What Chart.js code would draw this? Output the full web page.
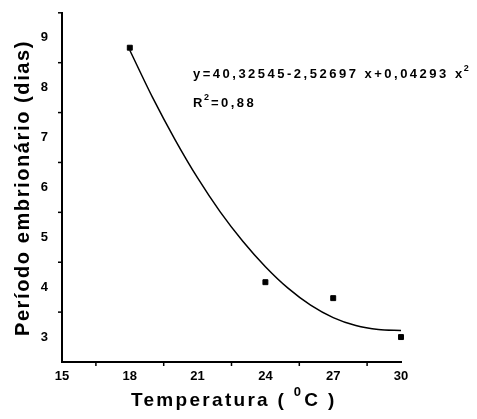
<!DOCTYPE html>
<html>
<head>
<meta charset="utf-8">
<script src="https://cdn.jsdelivr.net/npm/chart.js@4"></script>
<style>
  html, body { margin: 0; padding: 0; background: #fff; }
  #wrap { width: 477px; height: 419px; }
</style>
</head>
<body>
<div id="wrap"><canvas id="thecanvas"></canvas></div>
<script>
// observed points
const temps = [18, 24, 27, 30];
const dias = [8.8, 4.1, 3.78, 3.0];

// fitted curve
const curvex = [18, 19, 20, 21, 22, 23, 24, 25, 26, 27, 28, 29, 30];
const curvey = [8.75, 7.81, 6.96, 6.19, 5.51, 4.92, 4.41, 3.98, 3.64, 3.39, 3.23, 3.15, 3.13];

const xticks = [15, 18, 21, 24, 27, 30];
const yticks = [3, 4, 5, 6, 7, 8, 9];

const eqline = 'y=40,32545-2,52697 x+0,04293 x';
const xtitle = 'Temperatura ( ';
const ytitle = 'Período embrionário (dias)';

const fontfam = '"Liberation Sans", Arial, sans-serif';

// minor ticks, axis titles, equation text
const extras = {
  id: 'extras',
  afterDraw(chart) {
    const c = chart.ctx;
    const xs = chart.scales.x, ys = chart.scales.y;
    c.save();
    c.strokeStyle = '#000';
    c.lineWidth = 1.5;
    for (let v = 16.5; v < 30; v += 3) {
      const px = xs.getPixelForValue(v);
      c.beginPath(); c.moveTo(px, xs.top); c.lineTo(px, xs.top + 4); c.stroke();
    }
    for (let v = 3.5; v <= 9.5; v += 1) {
      const py = ys.getPixelForValue(v);
      c.beginPath(); c.moveTo(ys.right, py); c.lineTo(ys.right - 4, py); c.stroke();
    }
    c.fillStyle = '#000';
    c.textBaseline = 'alphabetic';

    // equation
    c.letterSpacing = '2.5px';
    c.font = 'bold 13px ' + fontfam;
    c.fillText(eqline, 193, 78);
    let w = c.measureText(eqline).width;
    c.font = 'bold 9px ' + fontfam;
    c.fillText('2', 193 + w - 1, 71);
    c.font = 'bold 13px ' + fontfam;
    c.fillText('R', 193, 107);
    w = c.measureText('R').width;
    c.font = 'bold 9px ' + fontfam;
    c.fillText('2', 193 + w - 1, 100);
    c.font = 'bold 13px ' + fontfam;
    c.fillText('=0,88', 193 + w + 6, 107);

    // x title
    c.letterSpacing = '2.3px';
    c.font = 'bold 19px ' + fontfam;
    let x0 = 131;
    c.fillText(xtitle, x0, 406);
    x0 += c.measureText(xtitle).width;
    c.font = 'bold 13px ' + fontfam;
    c.fillText('0', x0, 396);
    x0 += c.measureText('0').width + 1;
    c.font = 'bold 19px ' + fontfam;
    c.fillText('C )', x0, 406);

    // y title
    c.translate(29, 188);
    c.rotate(-Math.PI / 2);
    c.letterSpacing = '1.6px';
    c.font = 'bold 20px ' + fontfam;
    c.textAlign = 'center';
    c.fillText(ytitle, 0, 0);
    c.restore();
  }
};

new Chart(document.getElementById('thecanvas'), {
  type: 'scatter',
  data: {
    datasets: [
      {
        label: 'dados',
        data: temps.map((t, i) => ({ x: t, y: dias[i] })),
        backgroundColor: '#000',
        borderColor: '#000',
        pointStyle: 'rect',
        pointRadius: 3.5,
        showLine: false,
        clip: false
      },
      {
        label: 'ajuste',
        data: curvex.map((t, i) => ({ x: t, y: curvey[i] })),
        borderColor: '#000',
        borderWidth: 1.5,
        pointRadius: 0,
        showLine: true,
        tension: 0.3
      }
    ]
  },
  options: {
    responsive: true,
    maintainAspectRatio: false,
    animation: false,
    layout: { padding: { top: 12, right: 76, left: 0, bottom: 0 } },
    plugins: { legend: { display: false }, tooltip: { enabled: false } },
    scales: {
      x: {
        type: 'linear',
        min: 15,
        max: 30,
        afterBuildTicks: s => { s.ticks = xticks.map(v => ({ value: v })); },
        afterFit: s => { s.height = 57; },
        border: { color: '#000', width: 2 },
        grid: { display: false, drawTicks: true, tickLength: 6, tickColor: '#000', tickWidth: 2 },
        ticks: { color: '#000', font: { family: fontfam, size: 13, weight: 'bold' }, padding: 1, maxRotation: 0 },
        title: { display: false }
      },
      y: {
        type: 'linear',
        min: 2.5,
        max: 9.5,
        afterBuildTicks: s => { s.ticks = yticks.map(v => ({ value: v })); },
        afterFit: s => { s.width = 62; },
        border: { color: '#000', width: 2 },
        grid: { display: false, drawTicks: true, tickLength: 9, tickColor: '#000', tickWidth: 2 },
        ticks: { color: '#000', font: { family: fontfam, size: 13, weight: 'bold' }, padding: 5 },
        title: { display: false }
      }
    }
  },
  plugins: [extras]
});
</script>
</body>
</html>
